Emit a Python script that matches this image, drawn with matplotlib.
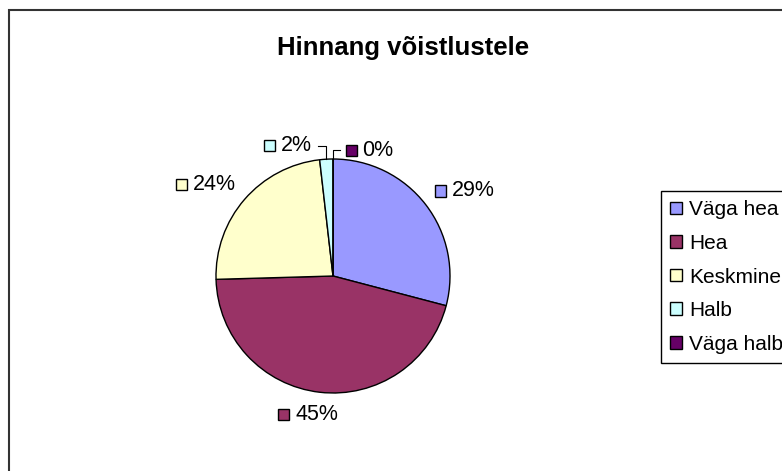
import numpy as np
import matplotlib
matplotlib.use('Agg')
import matplotlib.pyplot as plt
from matplotlib.patches import Rectangle, Patch
from matplotlib.offsetbox import AnnotationBbox, DrawingArea, TextArea, HPacker

title = 'Hinnang võistlustele'
categories = ['Väga hea', 'Hea', 'Keskmine', 'Halb', 'Väga halb']
counts = [16, 25, 13, 1, 0]
colors = ['#9999FF', '#993366', '#FFFFCC', '#CCFFFF', '#660066']

plt.rcParams['font.family'] = ['Liberation Sans', 'DejaVu Sans']

W, H = 782, 471
fig = plt.figure(figsize=(W / 100, H / 100), dpi=100)
fig.patch.set_facecolor('white')

# outer chart frame, cut off at right and bottom like the source
fig.patches.append(Rectangle((9 / W, -0.1), 1.2, 1.1 - 10 / H, transform=fig.transFigure,
                             fill=False, ec='#333333', lw=1.5))

cx, cy, r = 333, 276, 117
ax = fig.add_axes([(cx - r) / W, (H - cy - r) / H, 2 * r / W, 2 * r / H])
wedges, _ = ax.pie(counts, colors=colors, startangle=90, counterclock=False,
                   wedgeprops=dict(edgecolor='black', linewidth=1))
ax.set_xlim(-1, 1)
ax.set_ylim(-1, 1)

total = sum(counts)


def label_box(text, color):
    da = DrawingArea(8, 8, 0, 0)
    da.add_artist(Rectangle((0, 0), 8, 8, fc=color, ec='black', lw=1))
    ta = TextArea(text, textprops=dict(fontsize=15.5))
    return HPacker(children=[da, ta], align='center', pad=0, sep=4)


# small slices get elbow leader lines (end point of the leader)
leaders = {'Halb': (-0.13, 1.115), 'Väga halb': (0.06, 1.075)}

for w, cat, n, col in zip(wedges, categories, counts, colors):
    ang = np.deg2rad((w.theta1 + w.theta2) / 2)
    c, s = np.cos(ang), np.sin(ang)
    txt = f'{n / total * 100:.0f}%'
    if cat in leaders:
        lx, ly = leaders[cat]
        ax.plot([c, c, lx], [s, ly, ly], color='black', lw=0.8, clip_on=False)
        side = 1 if lx > c else -1
        xy = (lx + side * 0.05, ly)
        align = (0.0 if side > 0 else 1.0, 0.5)
    else:
        # label box placed just outside the rim, facing away from the centre
        xy = (1.1 * c, 1.1 * s)
        align = (np.clip(0.5 - 1.5 * c, 0, 1), (1 - s) / 2)
    ab = AnnotationBbox(label_box(txt, col), xy, xycoords='data', box_alignment=align,
                        frameon=False, pad=0, annotation_clip=False)
    ax.add_artist(ab)

fig.text(403 / W, 1 - 48 / H, title, ha='center', va='center', fontsize=18.5, fontweight='bold')

handles = [Patch(facecolor=c, edgecolor='black', lw=1) for c in colors]
leg = fig.legend(handles, categories, loc='upper left', bbox_to_anchor=(661 / W, 1 - 191 / H),
                 borderaxespad=0, fontsize=15, frameon=True, fancybox=False, edgecolor='black',
                 framealpha=1, handlelength=0.55, handleheight=0.55, handletextpad=0.35,
                 labelspacing=0.7, borderpad=0.45)
leg.get_frame().set_linewidth(1)

fig.savefig('out.png', dpi=100)
